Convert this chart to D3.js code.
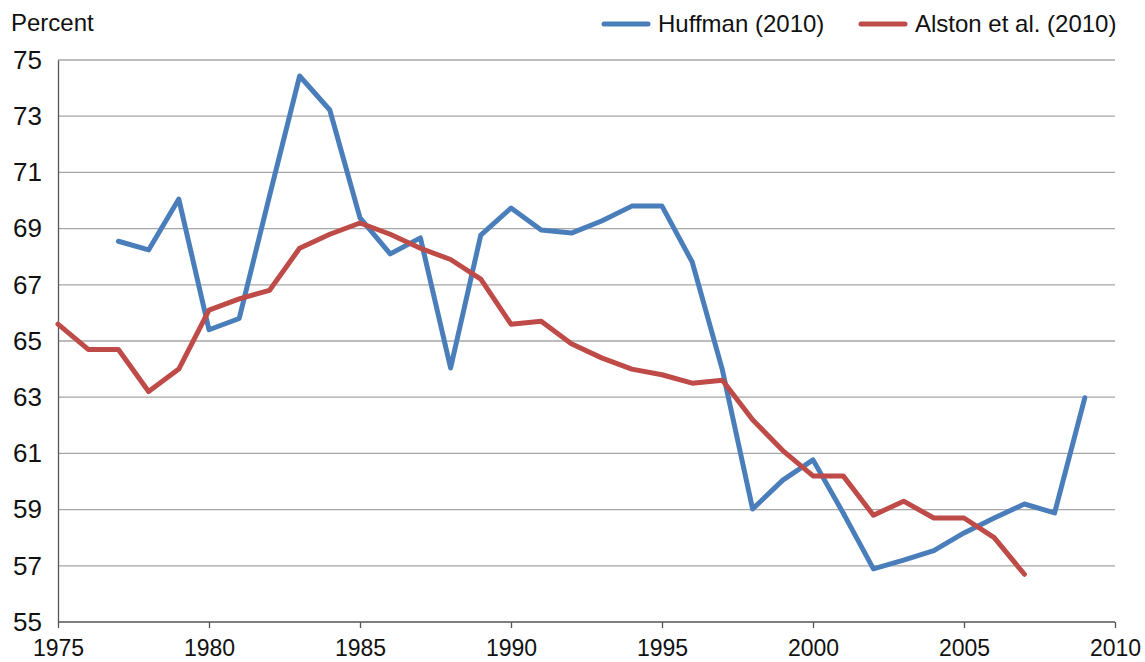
<!DOCTYPE html>
<html><head><meta charset="utf-8">
<script src="https://cdn.jsdelivr.net/npm/d3@7"></script>
<style>body{margin:0;background:#fff}svg{display:block;font-family:"Liberation Sans",Arial,sans-serif}</style>
</head><body><svg id="c" width="1145" height="662"></svg>
<script>
const huffYears = d3.range(1977, 2010);
const huffValues = [68.55,68.24,70.05,65.4,65.8,70.15,74.43,73.22,69.38,68.1,68.67,64.04,68.77,69.73,68.95,68.84,69.27,69.8,69.8,67.81,63.97,59.02,60.05,60.77,58.88,56.89,57.2,57.54,58.17,58.7,59.2,58.88,62.98];
const alstonYears = d3.range(1975, 2008);
const alstonValues = [65.6,64.7,64.7,63.2,64.0,66.1,66.5,66.8,68.3,68.8,69.2,68.8,68.3,67.9,67.2,65.6,65.7,64.9,64.4,64.0,63.8,63.5,63.6,62.2,61.1,60.2,60.2,58.8,59.3,58.7,58.7,58.0,56.7];
const xTicks = [1975,1980,1985,1990,1995,2000,2005,2010];
const yTicks = [55,57,59,61,63,65,67,69,71,73,75];
const seriesNames = ["Huffman (2010)", "Alston et al. (2010)"];
const colors = ["#4a7ebb", "#be4b48"];

const svg = d3.select("#c");
const x = d3.scaleLinear().domain([1975, 2010]).range([58, 1115]);
const y = d3.scaleLinear().domain([55, 75]).range([622, 60]);

// gridlines
svg.append("g").selectAll("line").data(yTicks.slice(1)).join("line")
  .attr("x1", 58).attr("x2", 1115).attr("y1", d => y(d)).attr("y2", d => y(d))
  .attr("stroke", "#a6a6a6").attr("stroke-width", 1.3);

// y axis
const ya = svg.append("g").attr("transform", "translate(58,0)")
  .call(d3.axisLeft(y).tickValues(yTicks).tickSize(0).tickPadding(16).tickFormat(d3.format("d")));
ya.select(".domain").attr("stroke", "#555").attr("stroke-width", 1.3);
ya.selectAll("text").attr("font-size", 26).attr("fill", "#111").attr("font-family", "Liberation Sans, Arial, sans-serif");

// x axis
const xa = svg.append("g").attr("transform", "translate(0,622)")
  .call(d3.axisBottom(x).tickValues(xTicks).tickSize(6).tickPadding(12).tickFormat(d3.format("d")));
xa.select(".domain").attr("stroke", "#555").attr("stroke-width", 1.3).attr("d", "M58,0H1115");
xa.selectAll(".tick line").attr("stroke", "#555").attr("stroke-width", 1.3);
xa.selectAll("text").attr("font-size", 23).attr("fill", "#111").attr("font-family", "Liberation Sans, Arial, sans-serif");

svg.append("text").attr("x", 11).attr("y", 31).attr("font-size", 24).attr("fill", "#111").text("Percent");

const line = d3.line().x(d => x(d[0])).y(d => y(d[1]));
const series = [d3.zip(huffYears, huffValues), d3.zip(alstonYears, alstonValues)];
series.forEach((s, i) => {
  svg.append("path").datum(s).attr("d", line).attr("fill", "none")
    .attr("stroke", colors[i]).attr("stroke-width", 5).attr("stroke-linejoin", "round").attr("stroke-linecap", "round");
});

// legend
const legX = [604, 861];
seriesNames.forEach((n, i) => {
  svg.append("line").attr("x1", legX[i]).attr("x2", legX[i] + 44).attr("y1", 24).attr("y2", 24)
    .attr("stroke", colors[i]).attr("stroke-width", 5).attr("stroke-linecap", "round");
  svg.append("text").attr("x", legX[i] + 54).attr("y", 32).attr("font-size", 24).attr("fill", "#111").text(n);
});
</script></body></html>
